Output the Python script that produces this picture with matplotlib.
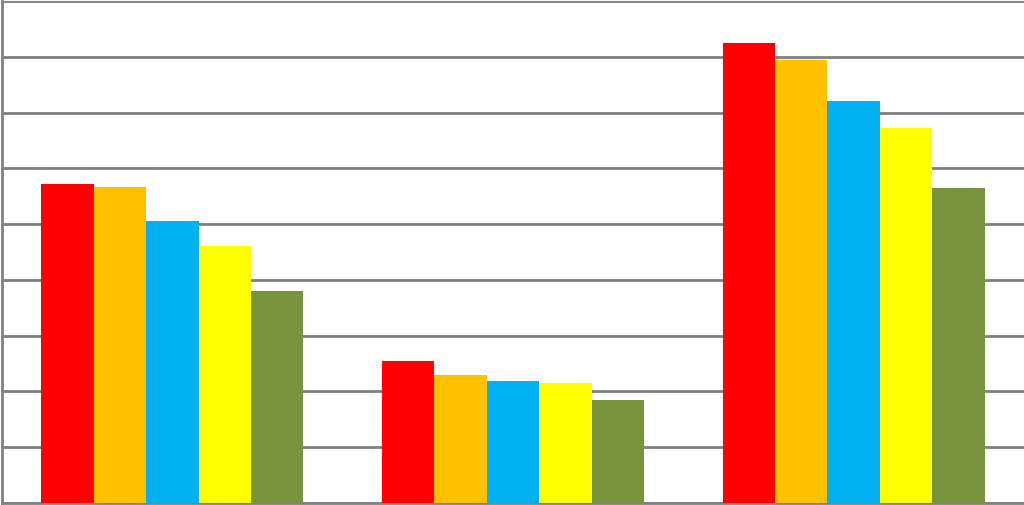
import matplotlib
matplotlib.use('Agg')
import matplotlib.pyplot as plt
import numpy as np

# three groups, five series each (no labels visible in the picture)
groups = ['A', 'B', 'C']
series_names = ['s1', 's2', 's3', 's4', 's5']
s1 = [5.72, 2.54, 8.24]
s2 = [5.66, 2.29, 7.94]
s3 = [5.05, 2.19, 7.20]
s4 = [4.61, 2.15, 6.72]
s5 = [3.80, 1.85, 5.65]
colors = ['#FF0000', '#FFC000', '#00B0F0', '#FFFF00', '#77933C']

W, H = 1024, 506
fig = plt.figure(figsize=(W / 100, H / 100), dpi=100)
ax = fig.add_axes([2 / W, 2 / H, (W - 2) / W, (H - 4) / H])

x = np.arange(len(groups))
bw = 0.1537
for i, vals in enumerate([s1, s2, s3, s4, s5]):
    ax.bar(x + (i - 2) * bw, vals, width=bw, color=colors[i], zorder=3)

ax.set_xlim(-0.5, 2.5)
ax.set_ylim(0, 9)
ax.set_yticks(np.arange(0, 10, 1))
ax.grid(axis='y', color='#808080', linewidth=2, zorder=0)
ax.tick_params(left=False, bottom=False, labelleft=False, labelbottom=False)
for side in ['top', 'right']:
    ax.spines[side].set_visible(False)
for side in ['left', 'bottom']:
    ax.spines[side].set_color('#808080')
    ax.spines[side].set_linewidth(2)

fig.savefig('out.png', dpi=100)
